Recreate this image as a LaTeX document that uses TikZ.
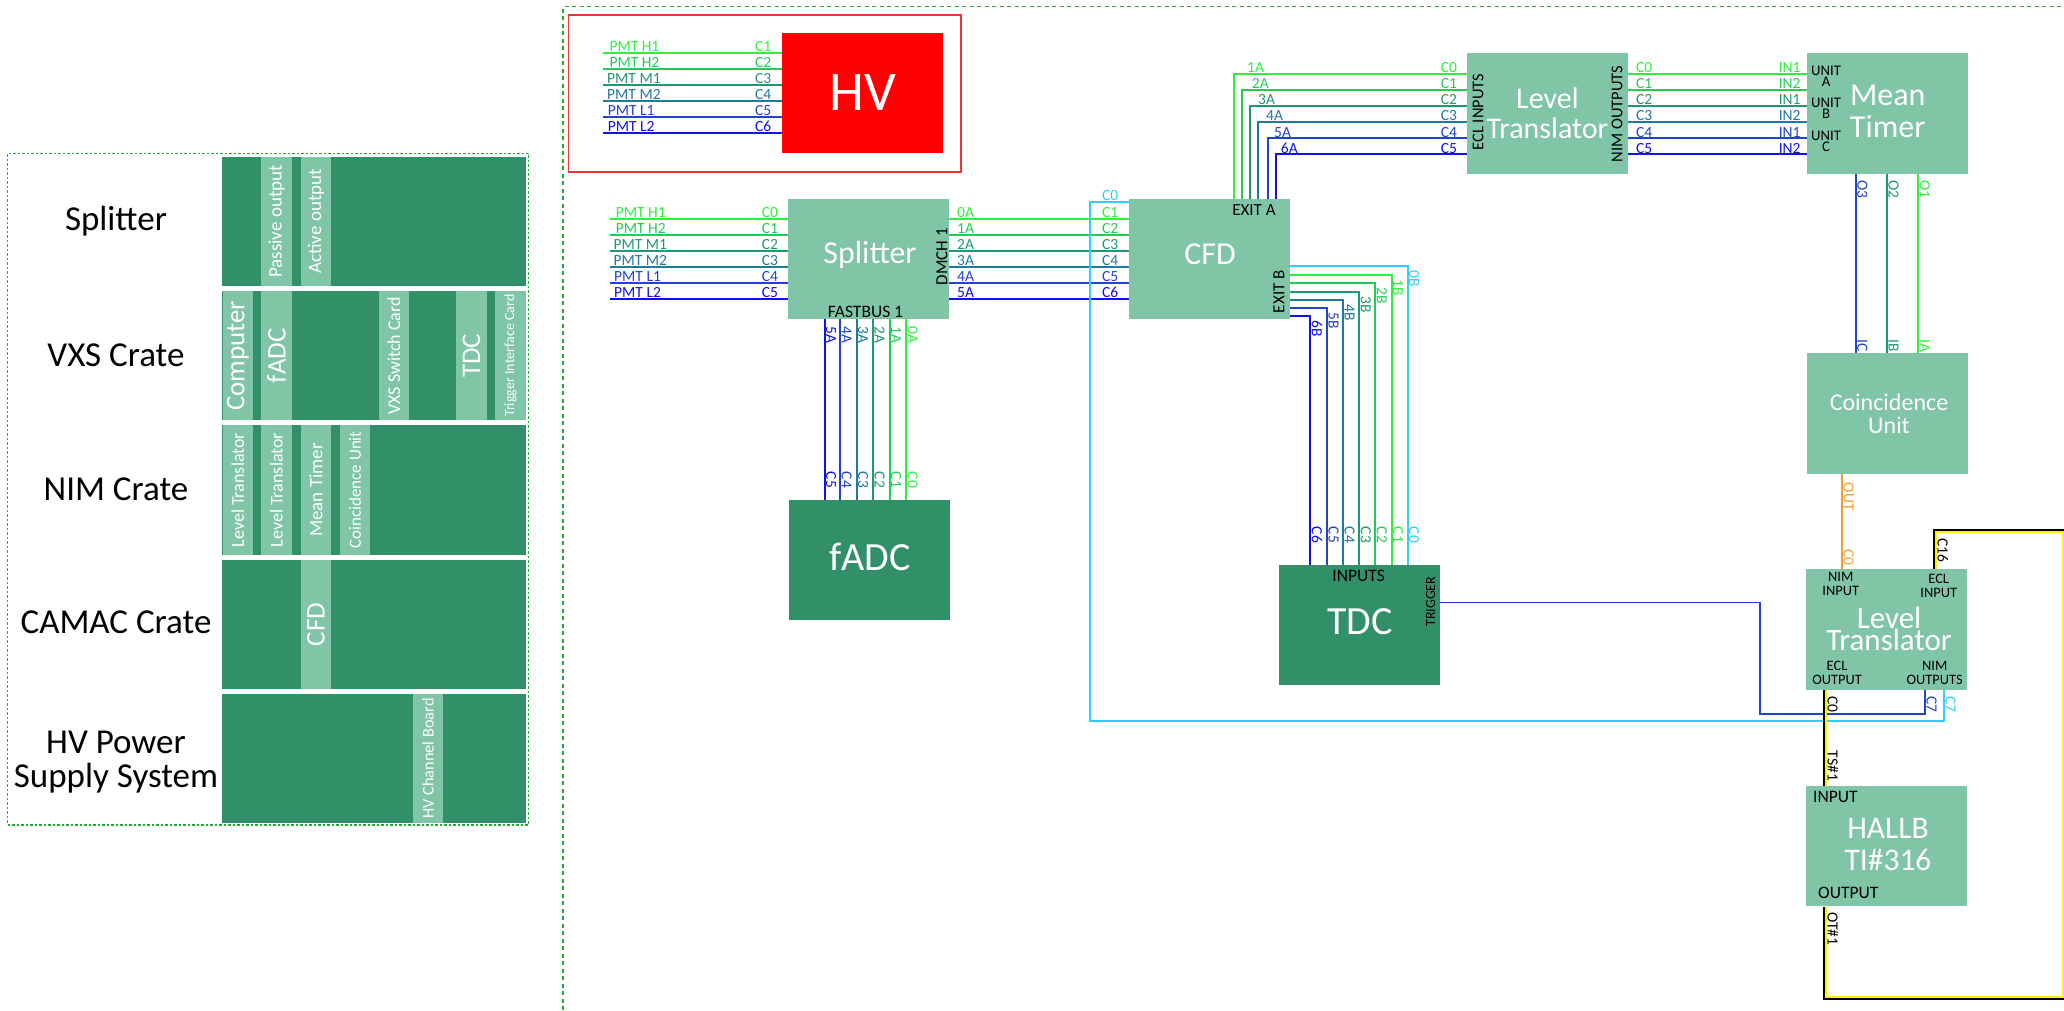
\documentclass[tikz,border=0pt]{standalone}
\usepackage{fontspec}
\setmainfont{Carlito}
\usetikzlibrary{calc}
\definecolor{boxlight}{HTML}{7FC5A6}
\definecolor{boxdark}{HTML}{319067}
\definecolor{wa}{HTML}{2EF03C}
\definecolor{wb}{HTML}{22CC55}
\definecolor{wc}{HTML}{1F9970}
\definecolor{wd}{HTML}{1F7AA0}
\definecolor{we}{HTML}{2244CC}
\definecolor{wf}{HTML}{1111EE}
\definecolor{wcy}{HTML}{33CCFF}
\definecolor{wor}{HTML}{F0A030}
\definecolor{wye}{HTML}{FFF200}
\definecolor{frameg}{HTML}{22AA33}
\definecolor{framer}{HTML}{EE3333}
\newcommand\fs[2]{\fontsize{#1}{#2}\selectfont}
\newcount\lblc
\newcommand\lab[5]{\global\advance\lblc by 1\relax
  \node[lab,#1,rotate=#2] (lab\the\lblc) at (#3,#4) {#5};}
\tikzset{
  wire/.style={line width=1.9pt},
  lab/.style={font=\fs{15.5}{17},inner sep=0pt,anchor=base west},
  lbox/.style={fill=boxlight,inner sep=0pt,minimum width=161pt,minimum height=120.5pt},
  dbox/.style={fill=boxdark,inner sep=0pt,minimum width=161pt,minimum height=120.5pt},
  title/.style={text=white,inner sep=0pt,align=center},
  small/.style={text=black,inner sep=0pt,align=center},
  panel/.style={fill=boxdark,inner sep=0pt,minimum width=304pt,minimum height=129.5pt},
  card/.style={fill=boxlight,text=white,inner sep=0pt,rotate=90,minimum width=129.5pt,minimum height=30.4pt},
  rowname/.style={inner sep=0pt,align=center,font=\fs{35}{33.5}}
}
\begin{document}
\begin{tikzpicture}[x=1pt,y=-1pt]
\useasboundingbox (0,0) rectangle (2064,1010);
\fill[white] (0,0) rectangle (2064,1010);

% ---------- left legend ----------
\node[draw=frameg,line width=1.5pt,dash pattern=on 2.5pt off 2pt,inner sep=0pt,minimum width=521pt,minimum height=671.5pt] (legend) at (268,489) {};
\node[panel] (pA) at (374,221.5) {};
\node[panel] (pB) at (374,355.7) {};
\node[panel] (pC) at (374,490) {};
\node[panel] (pD) at (374,624.3) {};
\node[panel] (pE) at (374,758.3) {};
\node[rowname] (nA) at (116,221.5) {Splitter};
\node[rowname] (nB) at (116,355.5) {VXS Crate};
\node[rowname] (nC) at (116,489) {NIM Crate};
\node[rowname] (nD) at (116,622.5) {CAMAC Crate};
\node[rowname] (nE) at (116,762) {HV Power\\Supply System};
\node[card,font=\fs{19}{20}] (c1) at (276.5,221.5) {Passive output};
\node[card,font=\fs{19}{20}] (c2) at (316,221.5) {Active output};
\node[card,font=\fs{27}{28}] (c3) at (237.7,355.7) {Computer};
\node[card,font=\fs{27}{28}] (c4) at (276.5,355.7) {fADC};
\node[card,font=\fs{18}{19}] (c5) at (394,355.7) {VXS Switch Card};
\node[card,font=\fs{27}{28}] (c6) at (471.5,355.7) {TDC};
\node[card,font=\fs{14}{15}] (c7) at (510.5,355.7) {Trigger Interface Card};
\node[card,font=\fs{18}{19}] (c8) at (237.7,490) {Level Translator};
\node[card,font=\fs{18}{19}] (c9) at (276.5,490) {Level Translator};
\node[card,font=\fs{19}{20}] (c10) at (316,490) {Mean Timer};
\node[card,font=\fs{17}{18}] (c11) at (355,490) {Coincidence Unit};
\node[card,font=\fs{27}{28}] (c12) at (316,624.3) {CFD};
\node[card,font=\fs{16.3}{17}] (c13) at (428,758.3) {HV Channel Board};

% ---------- outer frame ----------
\coordinate (fa) at (563,1010);
\coordinate (fb) at (563,6.5);
\coordinate (fc) at (2064,6.5);
\draw[frameg,line width=1.5pt,dash pattern=on 4pt off 3.5pt] (fa) -- (fb) -- (fc);

% ---------- HV group ----------
\node[draw=framer,line width=1.5pt,inner sep=0pt,minimum width=392.5pt,minimum height=157pt] (hvframe) at (764.7,93.5) {};
\node[fill=red,inner sep=0pt,minimum width=161pt,minimum height=120pt,text=white,font=\fs{56}{58}] (hv) at (862.5,93) {HV};
\foreach \n/\y/\c in {1/52.7/wa,2/69/wb,3/85/wc,4/101/wd,5/117/we,6/133/wf}{
  \coordinate (hvp\n) at (603,\y);
  \draw[wire,\c] (hvp\n) -- (hvp\n -| hv.west);
}
\lab{wa}{0}{609.3}{51.5}{PMT H1} \lab{wa}{0}{755}{51.5}{C1}
\lab{wb}{0}{609.3}{67.5}{PMT H2} \lab{wb}{0}{755}{67.5}{C2}
\lab{wc}{0}{607}{83.5}{PMT M1}   \lab{wc}{0}{755}{83.5}{C3}
\lab{wd}{0}{607}{99.5}{PMT M2}   \lab{wd}{0}{755}{99.5}{C4}
\lab{we}{0}{607.7}{115.5}{PMT L1}\lab{we}{0}{755}{115.5}{C5}
\lab{wf}{0}{607.7}{131.5}{PMT L2}\lab{wf}{0}{755}{131.5}{C6}

% ---------- boxes ----------
\node[lbox] (splitter) at (868.5,259) {};
\node[dbox] (fadc) at (869,560) {};
\node[lbox] (cfd) at (1209.5,259) {};
\node[dbox] (tdc) at (1359,625) {};
\node[lbox] (lt1) at (1547.5,113.7) {};
\node[lbox] (mt) at (1887.7,113.7) {};
\node[lbox] (cu) at (1887.7,413.5) {};
\node[lbox] (lt2) at (1886.4,629.5) {};
\node[lbox] (hallb) at (1886.4,846.2) {};

% ---------- box titles ----------
\node[title,font=\fs{32}{33}] (tsplit) at (870,255) {Splitter};
\node[small,font=\fs{17.5}{18}] (fb1) at (865.5,312) {FASTBUS 1};
\node[small,font=\fs{17}{18},rotate=90] (dm1) at (942,256.7) {DMCH 1};
\node[title,font=\fs{40}{42}] (tfadc) at (870,557) {fADC};
\node[title,font=\fs{32}{33}] (tcfd) at (1210,254) {CFD};
\node[small,font=\fs{17}{18}] (exa) at (1254,210) {EXIT A};
\node[small,font=\fs{17}{18},rotate=90] (exb) at (1279,291.7) {EXIT B};
\node[title,font=\fs{40}{42}] (ttdc) at (1360,621.7) {TDC};
\node[small,font=\fs{17.5}{18}] (tin) at (1358.7,576) {INPUTS};
\node[small,font=\fs{14}{15},rotate=90] (ttr) at (1430.7,601.7) {TRIGGER};
\node[title,font=\fs{30}{29.5}] (tlt1) at (1547.4,113) {Level\\Translator};
\node[small,font=\fs{16.5}{18},rotate=90] (ecl1) at (1478,112) {ECL INPUTS};
\node[small,font=\fs{16.5}{18},rotate=90] (nim1) at (1617,114) {NIM OUTPUTS};
\node[title,font=\fs{32}{32.5}] (tmt) at (1887.7,111.5) {Mean\\Timer};
\node[small,font=\fs{14.7}{11}] (ua) at (1826,76.5) {UNIT\\A};
\node[small,font=\fs{14.7}{11}] (ub) at (1826,108.5) {UNIT\\B};
\node[small,font=\fs{14.7}{11}] (uc) at (1826,141) {UNIT\\C};
\node[title,font=\fs{24}{23}] (tcu) at (1889,414) {Coincidence\\Unit};
\node[small,font=\fs{14.4}{14}] (ni) at (1840.7,584) {NIM\\INPUT};
\node[small,font=\fs{14.4}{14}] (ei) at (1938.7,586) {ECL\\INPUT};
\node[title,font=\fs{31}{22}] (tlt2) at (1889,629) {Level\\Translator};
\node[small,font=\fs{14.4}{14}] (eo) at (1837,673) {ECL\\OUTPUT};
\node[small,font=\fs{14.4}{14}] (no) at (1934.7,673) {NIM\\OUTPUTS};
\node[title,font=\fs{31.5}{32}] (thb) at (1888,844) {HALLB\\TI\#316};
\node[small,font=\fs{17.5}{18},anchor=west] (hin) at (1813,796.7) {INPUT};
\node[small,font=\fs{17.5}{18},anchor=west] (hout) at (1818,893) {OUTPUT};

% ---------- splitter inputs ----------
\foreach \n/\y/\c in {1/218.7/wa,2/235/wb,3/251/wc,4/267/wd,5/283/we,6/299/wf}{
  \coordinate (sp\n) at (610,\y);
  \draw[wire,\c] (sp\n) -- (sp\n -| splitter.west);
  \draw[wire,\c] (splitter.east |- sp\n) -- (cfd.west |- sp\n);
}
\lab{wa}{0}{615.7}{217.5}{PMT H1} \lab{wa}{0}{761.7}{217.5}{C0} \lab{wa}{0}{957}{217.5}{0A} \lab{wa}{0}{1102}{217.5}{C1}
\lab{wb}{0}{615.7}{233.5}{PMT H2} \lab{wb}{0}{761.7}{233.5}{C1} \lab{wb}{0}{957}{233.5}{1A} \lab{wb}{0}{1102}{233.5}{C2}
\lab{wc}{0}{613.3}{249.5}{PMT M1} \lab{wc}{0}{761.7}{249.5}{C2} \lab{wc}{0}{957}{249.5}{2A} \lab{wc}{0}{1102}{249.5}{C3}
\lab{wd}{0}{613.3}{265.5}{PMT M2} \lab{wd}{0}{761.7}{265.5}{C3} \lab{wd}{0}{957}{265.5}{3A} \lab{wd}{0}{1102}{265.5}{C4}
\lab{we}{0}{614}{281.5}{PMT L1}   \lab{we}{0}{761.7}{281.5}{C4} \lab{we}{0}{957}{281.5}{4A} \lab{we}{0}{1102}{281.5}{C5}
\lab{wf}{0}{614}{297.5}{PMT L2}   \lab{wf}{0}{761.7}{297.5}{C5} \lab{wf}{0}{957}{297.5}{5A} \lab{wf}{0}{1102}{297.5}{C6}

% ---------- splitter to fADC ----------
\foreach \x/\c/\t/\u in {824.7/wf/5A/C5,840/we/4A/C4,856.7/wd/3A/C3,873/wc/2A/C2,889.7/wb/1A/C1,906/wa/0A/C0}{
  \coordinate (fx) at (\x,400);
  \draw[wire,\c] (fx |- splitter.south) -- (fx |- fadc.north);
  \lab{\c}{-90}{\x+1.5}{326.7}{\t}
  \lab{\c}{-90}{\x+1.5}{471.7}{\u}
}

% ---------- CFD exit A to level translator ----------
\foreach \n/\x/\y/\c/\t/\tx/\u in {1/1234.3/73.7/wa/1A/1247/C0,2/1242.3/90/wb/2A/1251.7/C1,3/1250.3/106/wc/3A/1258/C2,4/1258.3/122/wd/4A/1266/C3,5/1268/138.3/we/5A/1274/C4,6/1276.3/154.3/wf/6A/1280.7/C5}{
  \coordinate (ea\n) at (\x,\y);
  \draw[wire,\c] (ea\n |- cfd.north) -- (ea\n) -- (ea\n -| lt1.west);
  \draw[wire,\c] (lt1.east |- ea\n) -- (ea\n -| mt.west);
  \lab{\c}{0}{\tx}{\y-1.2}{\t}
  \lab{\c}{0}{1440.7}{\y-1.2}{\u}
  \lab{\c}{0}{1636}{\y-1.2}{\u}
}
\lab{wa}{0}{1778.6}{72.5}{IN1}
\lab{wb}{0}{1778.6}{88.8}{IN2}
\lab{wc}{0}{1778.6}{104.8}{IN1}
\lab{wd}{0}{1778.6}{120.8}{IN2}
\lab{we}{0}{1778.6}{137.1}{IN1}
\lab{wf}{0}{1778.6}{153.1}{IN2}

% ---------- CFD exit B to TDC ----------
\foreach \n/\x/\y/\c/\t/\ty/\u in {0/1407.7/266/wcy/0B/270/C0,1/1391.7/275.3/wa/1B/279/C1,2/1375.3/283.3/wb/2B/287.7/C2,3/1359.3/291.7/wc/3B/296/C3,4/1343/300/wd/4B/304/C4,5/1327/308.3/we/5B/312/C5,6/1310.3/316.3/wf/6B/320.7/C6}{
  \coordinate (eb\n) at (\x,\y);
  \draw[wire,\c] (cfd.east |- eb\n) -- (eb\n) -- (eb\n |- tdc.north);
  \lab{\c}{-90}{\x+1.5}{\ty}{\t}
  \lab{\c}{-90}{\x+1.5}{526.7}{\u}
}

% ---------- mean timer to coincidence unit ----------
\foreach \x/\c/\t/\u in {1855.8/we/O3/IC,1887/wc/O2/IB,1918.3/wa/O1/IA}{
  \coordinate (mx) at (\x,250);
  \draw[wire,\c] (mx |- mt.south) -- (mx |- cu.north);
  \lab{\c}{-90}{\x+1.5}{180}{\t}
  \lab{\c}{-90}{\x+1.5}{339}{\u}
}

% ---------- coincidence to level translator ----------
\coordinate (ox) at (1842,520);
\draw[wire,wor] (ox |- cu.south) -- (ox |- lt2.north);
\lab{wor}{-90}{1843.5}{482.7}{OUT}
\lab{wor}{-90}{1843.5}{549}{C0}

% ---------- TDC trigger and CFD C0 ----------
\coordinate (trg) at (1760,602.5);
\coordinate (trb) at (1760,714);
\coordinate (trc) at (1925,714);
\draw[wire,we] (tdc.east |- trg) -- (trg) -- (trb) -- (trc) -- (trc |- lt2.south);
\lab{we}{-90}{1926.5}{696}{C7}
\coordinate (cya) at (1090,202);
\coordinate (cyb) at (1090,721);
\coordinate (cyc) at (1944,721);
\draw[wire,wcy] (cfd.west |- cya) -- (cya) -- (cyb) -- (cyc) -- (cyc |- lt2.south);
\lab{wcy}{-90}{1945.5}{696}{C7}
\lab{wcy}{0}{1102}{200.8}{C0}

% ---------- trigger loop (black and yellow) ----------
\coordinate (yb) at (1826,997);
\coordinate (yc) at (2062.7,997);
\coordinate (yd) at (2062.7,532);
\coordinate (ye) at (1936,532);
\coordinate (kb) at (1824,999);
\coordinate (kc) at (2066,999);
\coordinate (kd) at (2066,530);
\coordinate (ke) at (1934,530);
\draw[wire,wye] (lt2.south -| yb) -- (hallb.north -| yb);
\draw[wire,black] (lt2.south -| kb) -- (hallb.north -| kb);
\draw[wire,wye] (hallb.south -| yb) -- (yb) -- (yc) -- (yd) -- (ye) -- (ye |- lt2.north);
\draw[wire,black] (hallb.south -| kb) -- (kb) -- (kc);
\draw[wire,black] (kd) -- (ke) -- (ke |- lt2.north);
\lab{black}{-90}{1827.5}{696}{C0}
\lab{black}{-90}{1827.5}{750.7}{TS\#1}
\lab{black}{-90}{1827.5}{912}{OT\#1}
\lab{black}{-90}{1937.5}{538}{C16}
\end{tikzpicture}
\end{document}
